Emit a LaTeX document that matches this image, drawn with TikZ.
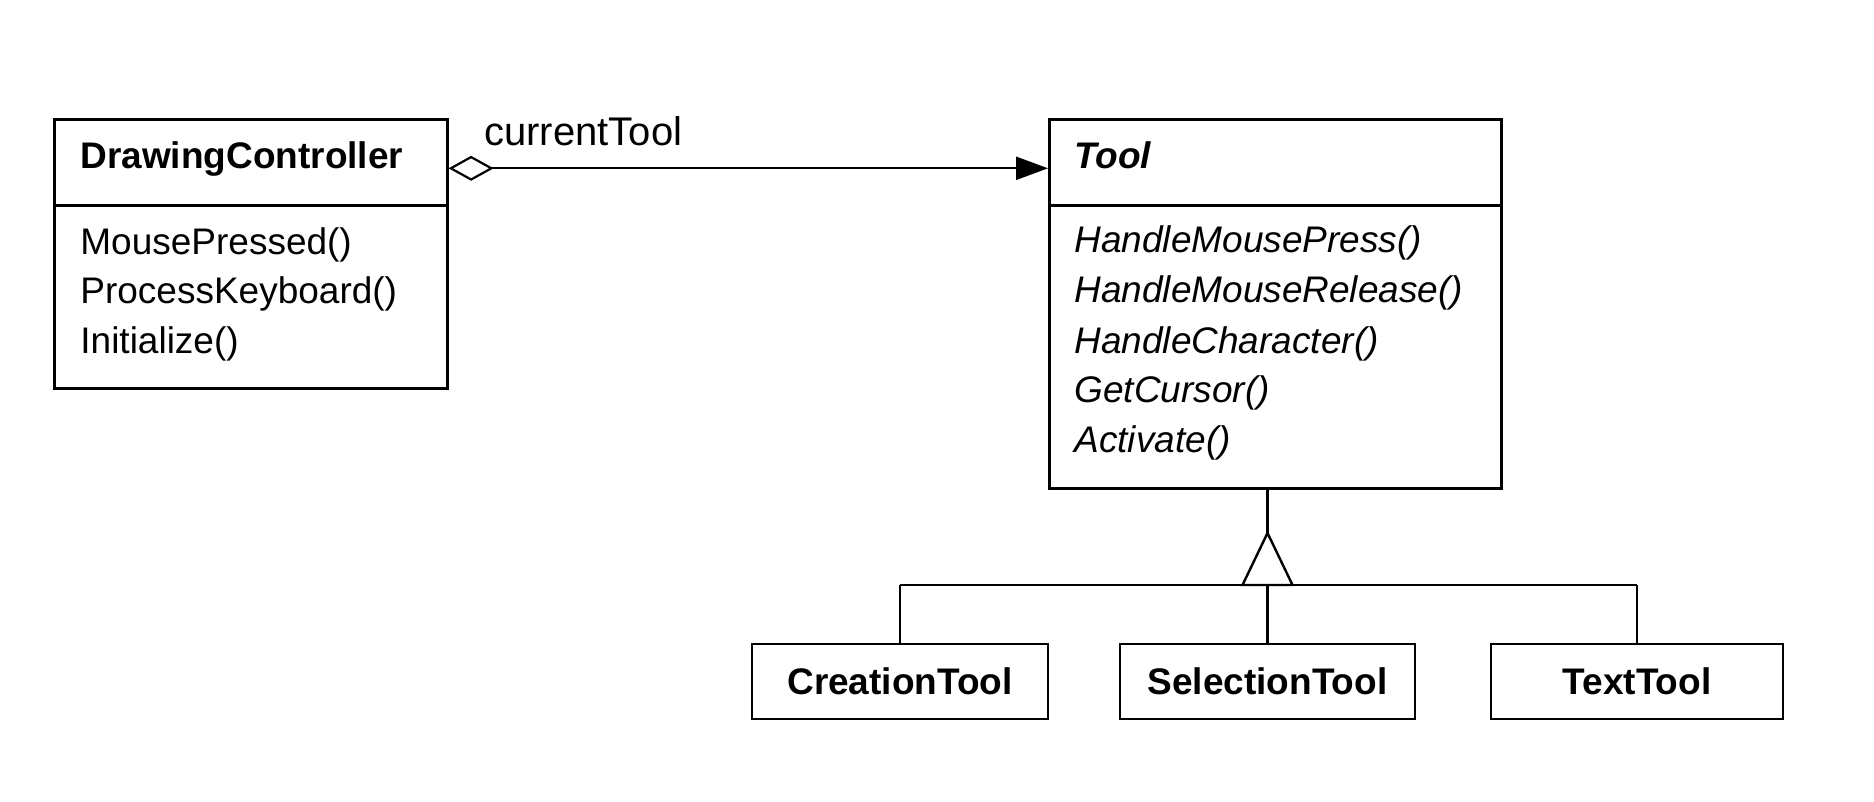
\documentclass[tikz,border=0pt]{standalone}
\usepackage{fontspec}
\setmainfont{Liberation Sans}
\usetikzlibrary{arrows.meta}
\begin{document}
\begin{tikzpicture}[x=0.5pt,y=-0.5pt,
  cls/.style={draw, line width=1.3pt, inner sep=0pt, anchor=north west, minimum height=43pt},
  sub/.style={draw, line width=1.3pt, inner sep=0pt, minimum height=37.5pt,
    font=\fontsize{18.5pt}{22pt}\selectfont\bfseries},
  txt/.style={inner sep=0pt, anchor=base west, font=\fontsize{18.5pt}{22pt}\selectfont},
  conn/.style={line width=1.2pt},
  assoc/.style={conn, {Diamond[open, length=22.5pt, width=12.5pt, line width=1.1pt]}-{Triangle[length=16pt, width=11.5pt]}}
]
\useasboundingbox (0,0) rectangle (1874,802);
% DrawingController
\node[cls, minimum width=196.5pt] (dch) at (53,118) {};
\node[cls, minimum width=196.5pt, minimum height=91.5pt] (dcb) at (53,204) {};
\node[txt] (dcname) at (80,169) {\textbf{DrawingController}};
\node[txt] (dcm1) at (80,255) {MousePressed()};
\node[txt] (dcm2) at (80,304) {ProcessKeyboard()};
\node[txt] (dcm3) at (80,353) {Initialize()};
% Tool
\node[cls, minimum width=226pt] (th) at (1048,118) {};
\node[cls, minimum width=226pt, minimum height=141.5pt] (tb) at (1048,204) {};
\node[txt] (tname) at (1074,169) {\textbf{\textit{Tool}}};
\node[txt] (tm1) at (1074,253) {\textit{HandleMousePress()}};
\node[txt] (tm2) at (1074,303) {\textit{HandleMouseRelease()}};
\node[txt] (tm3) at (1074,353) {\textit{HandleCharacter()}};
\node[txt] (tm4) at (1074,402) {\textit{GetCursor()}};
\node[txt] (tm5) at (1074,452) {\textit{Activate()}};
% association
\draw[assoc] ([yshift=-3pt]dch.east) -- ([yshift=-3pt]th.west);
\node[txt, font=\fontsize{20pt}{24pt}\selectfont] (lbl) at (484,146) {currentTool};
% subclasses
\node[sub, minimum width=148pt] (ct) at (900,681.5) {CreationTool};
\node[sub, minimum width=147.5pt] (st) at (1267.5,681.5) {SelectionTool};
\node[sub, minimum width=146pt] (tt) at (1637,681.5) {TextTool};
% inheritance
\coordinate (apex) at (1267.5,533);
\coordinate (bar) at (1267.5,585);
\draw[conn] (tb.south -| apex) -- (apex);
\draw[conn, line join=miter] (apex) -- ([xshift=-12.5pt]bar) -- ([xshift=12.5pt]bar) -- cycle;
\draw[conn] (ct.north |- bar) -- (tt.north |- bar);
\draw[conn] (ct.north) -- (ct.north |- bar);
\draw[conn] (st.north) -- (bar);
\draw[conn] (tt.north) -- (tt.north |- bar);
\end{tikzpicture}
\end{document}
